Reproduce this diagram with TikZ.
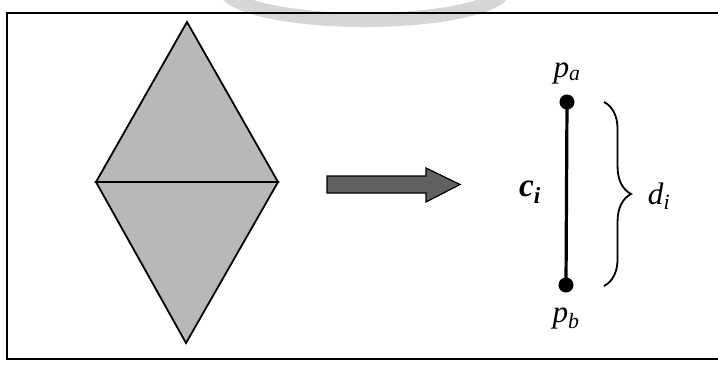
\documentclass[tikz,border=0pt]{standalone}
\usepackage{fontspec}
\setmainfont{Liberation Serif}
\usetikzlibrary{decorations.pathreplacing}

\begin{document}
\begin{tikzpicture}[
  x=0.035cm,y=-0.035cm,
  lbl/.style={font=\fontsize{31}{34}\selectfont\itshape,inner sep=0pt,anchor=base},
  half/.style={draw,line width=1.8pt,fill=black!28,line join=miter},
  blockarr/.style={draw,line width=1.2pt,fill=black!62},
  seg/.style={line width=3.2pt},
  dot/.style={circle,fill=black,inner sep=0pt,minimum size=15pt},
  brc/.style={decorate,decoration={brace,amplitude=27pt},line width=1.8pt}
]
\useasboundingbox (0,0) rectangle (718,365);
% faint mark of the scan
\begin{scope}
\clip (0,0) rectangle (718,365);
\draw[black!16,line width=14pt] (365,-12) ellipse [x radius=140,y radius=32];
\end{scope}
% frame
\draw[line width=1.5pt] (718,13) -- (7,13) -- (7,359) -- (718,359);
% the two triangles
\coordinate (top) at (187,22);
\coordinate (lft) at (96,182);
\coordinate (rgt) at (278,182);
\coordinate (bot) at (186,343);
\filldraw[half] (lft) -- (top) -- (rgt) -- cycle;
\filldraw[half] (lft) -- (bot) -- (rgt) -- cycle;
% arrow
\filldraw[blockarr] (327,176) -- (426,176) -- (426,168) -- (460,184.5)
  -- (426,202) -- (426,193) -- (327,193) -- cycle;
% segment
\node[dot](pa) at (567,102) {};
\node[dot](pb) at (566,285) {};
\draw[seg] (pa.center) -- (pb.center);
\node[lbl](la) at (567,77) {p\textsubscript{a}};
\node[lbl](lb) at (566,322) {p\textsubscript{b}};
\node[lbl,font=\fontsize{33}{36}\selectfont\bfseries\itshape](ci) at (530,196) {c\textsubscript{i}};
\coordinate (btop) at (604,102);
\coordinate (bbot) at (604,286);
\draw[brc] (btop) -- (bbot);
\node[lbl](di) at (659,204) {d\textsubscript{i}};
\end{tikzpicture}
\end{document}
